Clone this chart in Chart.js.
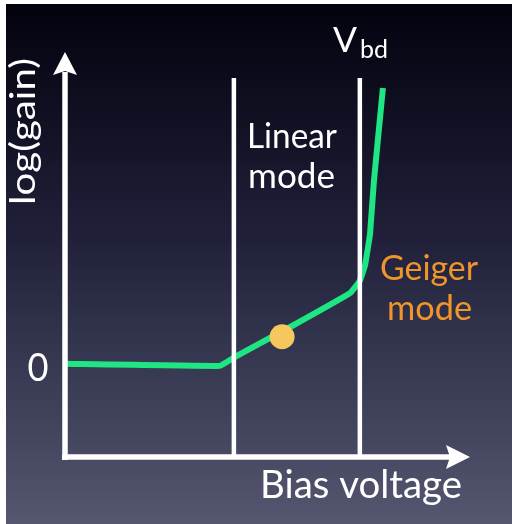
<!DOCTYPE html>
<html lang="en">
<head>
  <meta charset="UTF-8">
  <title>SiPM gain vs bias voltage</title>
  <script src="https://cdn.jsdelivr.net/npm/chart.js"></script>
  <style>
    body { margin: 0; background: #fff; }
    #wrap { width: 512px; height: 524px; }
  </style>
</head>
<body>
<div id="wrap"><canvas id="chart" width="512" height="524"></canvas></div>
<script>
  // gain curve (bias voltage in arbitrary units, log gain relative to 0 level)
  const biasVoltage = [0, 3.83, 4.20, 5.56, 7.04, 7.28, 7.41, 7.53, 7.63, 7.85];
  const logGain     = [0, -0.05, 0.17, 0.91, 1.75, 2.05, 2.44, 3.19, 4.54, 6.81];

  // region boundaries: start of linear mode, breakdown voltage
  const boundaries = [4.17, 7.28];
  const boundaryTop = 7.06;

  // operating point marker
  const pointX = [5.36];
  const pointY = [0.67];

  const yTicks = [0];
  const yTickLabels = ['0'];

  const xTitle = 'Bias voltage';
  const yTitle = 'log(gain)';
  const linearLabel = ['Linear', 'mode'];
  const geigerLabel = ['Geiger', 'mode'];

  const FONT = 'Lato, "Open Sans", sans-serif';

  function label(ctx, text, x, y, size, color, width, align) {
    ctx.save();
    ctx.font = size + 'px ' + FONT;
    const w = ctx.measureText(text).width;
    ctx.translate(x, y);
    if (width) ctx.scale(width / w, 1);
    ctx.fillStyle = color;
    ctx.textAlign = align || 'center';
    ctx.textBaseline = 'alphabetic';
    ctx.fillText(text, 0, 0);
    ctx.restore();
  }

  const backdrop = {
    id: 'backdrop',
    beforeDraw(chart) {
      const ctx = chart.ctx;
      ctx.save();
      ctx.fillStyle = '#ffffff';
      ctx.fillRect(0, 0, chart.width, chart.height);
      const g = ctx.createLinearGradient(0, 4, 0, chart.height);
      g.addColorStop(0, '#02020e');
      g.addColorStop(0.45, '#20203a');
      g.addColorStop(1, '#54576f');
      ctx.fillStyle = g;
      ctx.fillRect(6, 4, chart.width - 6, chart.height - 4);
      ctx.restore();
    }
  };

  const axesAndText = {
    id: 'axesAndText',
    afterDatasetsDraw(chart) {
      const ctx = chart.ctx;
      const xs = chart.scales.x, ys = chart.scales.y;
      const left = xs.getPixelForValue(xs.min);
      const right = xs.getPixelForValue(xs.max);
      const bottom = ys.getPixelForValue(ys.min);
      const top = ys.getPixelForValue(ys.max);
      ctx.save();
      ctx.strokeStyle = '#ffffff';
      ctx.fillStyle = '#ffffff';

      // boundary lines
      ctx.lineWidth = 4.5;
      boundaries.forEach(v => {
        const px = xs.getPixelForValue(v);
        ctx.beginPath();
        ctx.moveTo(px, ys.getPixelForValue(boundaryTop));
        ctx.lineTo(px, bottom);
        ctx.stroke();
      });

      // y axis with arrow
      ctx.lineWidth = 5.5;
      ctx.beginPath();
      ctx.moveTo(left, bottom + 3);
      ctx.lineTo(left, top + 20);
      ctx.stroke();
      ctx.beginPath();
      ctx.moveTo(left, top);
      ctx.lineTo(left - 12, top + 23);
      ctx.lineTo(left, top + 19);
      ctx.lineTo(left + 12, top + 23);
      ctx.closePath();
      ctx.fill();

      // x axis with arrow
      ctx.beginPath();
      ctx.moveTo(left - 3, bottom);
      ctx.lineTo(right - 20, bottom);
      ctx.stroke();
      ctx.beginPath();
      ctx.moveTo(right, bottom);
      ctx.lineTo(right - 24, bottom - 12);
      ctx.lineTo(right - 20, bottom);
      ctx.lineTo(right - 24, bottom + 12);
      ctx.closePath();
      ctx.fill();
      ctx.restore();
    },
    afterDraw(chart) {
      const ctx = chart.ctx;
      const ys = chart.scales.y;

      yTicks.forEach((v, i) => {
        label(ctx, yTickLabels[i], 38, ys.getPixelForValue(v) + 17, 38, '#ffffff', 21);
      });

      label(ctx, xTitle, 361, 498, 38, '#ffffff', 202);

      ctx.save();
      ctx.translate(35, 131.5);
      ctx.rotate(-Math.PI / 2);
      label(ctx, yTitle, 0, 0, 34, '#ffffff', 147);
      ctx.restore();

      label(ctx, linearLabel[0], 292, 148, 35, '#ffffff', 90);
      label(ctx, linearLabel[1], 291.5, 188, 35, '#ffffff', 87);
      label(ctx, geigerLabel[0], 429, 280, 35, '#f0952b', 98);
      label(ctx, geigerLabel[1], 429.5, 320, 35, '#f0952b', 85);

      label(ctx, 'V', 333, 52, 35, '#ffffff', 24, 'left');
      label(ctx, 'bd', 360, 58, 25, '#ffffff', 28, 'left');
    }
  };

  new Chart(document.getElementById('chart'), {
    type: 'scatter',
    data: {
      datasets: [{
        label: 'operating point',
        data: pointX.map((x, i) => ({ x, y: pointY[i] })),
        backgroundColor: '#f5c75c',
        borderWidth: 0,
        pointRadius: 12.5,
        order: 0
      }, {
        label: 'gain',
        type: 'line',
        data: biasVoltage.map((x, i) => ({ x, y: logGain[i] })),
        borderColor: '#1ee683',
        borderWidth: 6,
        borderJoinStyle: 'round',
        pointRadius: 0,
        tension: 0.06,
        fill: false,
        order: 1
      }]
    },
    options: {
      responsive: false,
      animation: false,
      layout: { padding: { left: 65, right: 42, top: 52, bottom: 67 } },
      plugins: { legend: { display: false }, tooltip: { enabled: false } },
      scales: {
        x: { type: 'linear', min: 0, max: 10, display: false },
        y: { type: 'linear', min: -2.3, max: 7.7, display: false }
      }
    },
    plugins: [backdrop, axesAndText]
  });
</script>
</body>
</html>
